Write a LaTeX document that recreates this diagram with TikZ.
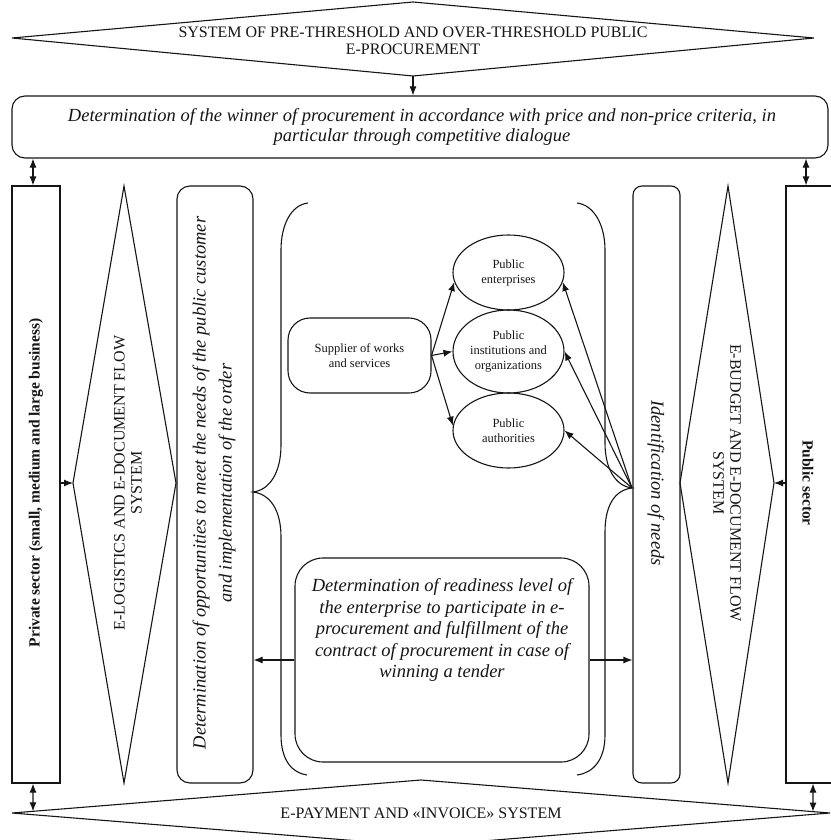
\documentclass[tikz,border=0pt]{standalone}
\usepackage{fontspec}
\setmainfont{Liberation Serif}
\usetikzlibrary{arrows.meta,shapes.geometric,calc}
\newcommand\myCaps{\fontsize{16}{17}\selectfont}
\newcommand\myItal{\fontsize{18.5}{20}\selectfont\itshape}
\newcommand\mySmall{\fontsize{12.5}{15}\selectfont}
\newcommand\myBold{\fontsize{15.5}{18}\selectfont\bfseries}
\definecolor{ink}{HTML}{151515}
\begin{document}
\begin{tikzpicture}[x=1pt,y=-1pt,
  line/.style={draw=ink, line width=1.1pt},
  arr/.style={line, -{Latex[length=9pt,width=7pt]}},
  darr/.style={line, {Latex[length=9pt,width=7pt]}-{Latex[length=9pt,width=7pt]}},
  rect/.style={line, rectangle, inner sep=0pt},
  rbox/.style={line, rectangle, inner sep=0pt},
  ell/.style={line, ellipse, inner sep=0pt, font=\mySmall, align=center, text=ink},
  txt/.style={inner sep=0pt, text=ink, align=center}]
\useasboundingbox (0,0) rectangle (830,840);

% top diamond
\coordinate (tdW) at (12,38);
\coordinate (tdE) at (814,38);
\coordinate (tdN) at (413,2);
\coordinate (tdS) at (413,76);
\draw[line] (tdW) -- (tdN) -- (tdE) -- (tdS) -- cycle;
\node[txt, font=\myCaps] (tdT) at (413,41) {SYSTEM OF PRE-THRESHOLD AND OVER-THRESHOLD PUBLIC\\E-PROCUREMENT};

% winner box
\node[rbox, rounded corners=13pt, minimum width=816pt, minimum height=62pt] (win) at (420,127) {};
\node[txt, font=\myItal] (winT) at (422,127) {Determination of the winner of procurement in accordance with price and non-price criteria, in\\particular through competitive dialogue};
\draw[arr] (tdS) -- (tdS |- win.north);

% side columns
\node[rect, minimum width=48pt, minimum height=597pt] (priv) at (36,484.5) {};
\node[txt, font=\myBold, rotate=90] (privT) at (36,483) {Private sector (small, medium and large business)};

\coordinate (ldN) at (124,186);
\coordinate (ldS) at (124,783);
\coordinate (ldW) at (73,483);
\coordinate (ldE) at (176,483);
\draw[line] (ldN) -- (ldE) -- (ldS) -- (ldW) -- cycle;
\node[txt, font=\myCaps, rotate=90] (ldT) at (128,483) {E-LOGISTICS AND E-DOCUMENT FLOW\\SYSTEM};

\node[rbox, rounded corners=13pt, minimum width=76pt, minimum height=597pt] (opp) at (215,484.5) {};
\node[txt, font=\fontsize{18.5}{26}\selectfont\itshape, rotate=90] (oppT) at (214,483) {Determination of opportunities to meet the needs of the public customer\\and implementation of the order};

\node[rbox, rounded corners=9pt, minimum width=47pt, minimum height=597pt] (ident) at (656.5,484.5) {};
\node[txt, font=\myItal, rotate=-90] (identT) at (656,483) {Identification of needs};

\coordinate (rdN) at (728,186);
\coordinate (rdS) at (728,783);
\coordinate (rdW) at (680,483);
\coordinate (rdE) at (774,483);
\draw[line] (rdN) -- (rdE) -- (rdS) -- (rdW) -- cycle;
\node[txt, font=\myCaps, rotate=-90] (rdT) at (727,483) {E-BUDGET AND E-DOCUMENT FLOW\\SYSTEM};

\node[rect, minimum width=54pt, minimum height=597pt] (pub) at (813,484.5) {};
\node[txt, font=\myBold, rotate=-90] (pubT) at (808,483) {Public sector};

\draw[arr] (priv.east |- ldW) -- (ldW);
\draw[arr] (pub.west |- rdE) -- (rdE);

% braces
\draw[line] (308,203) .. controls (291,205) and (281,225) .. (281,250) -- (281,445)
  .. controls (281,472) and (270,490) .. (253,492)
  .. controls (270,494) and (281,510) .. (281,537) -- (281,735)
  .. controls (281,760) and (292,773) .. (307,775);
\draw[line] (577,203) .. controls (594,205) and (605,225) .. (605,250) -- (605,443)
  .. controls (605,468) and (615,486) .. (632,488)
  .. controls (615,490) and (605,505) .. (605,532) -- (605,735)
  .. controls (605,760) and (593,773) .. (577,775);

% supplier and ellipses
\node[rbox, rounded corners=22pt, minimum width=143pt, minimum height=75pt, font=\mySmall, align=center, text=ink] (sup) at (359.5,355.5) {Supplier of works\\and services};
\node[ell, minimum width=111pt, minimum height=75pt] (pe) at (508.5,272.5) {Public\\enterprises};
\node[ell, minimum width=111pt, minimum height=83pt] (pi) at (508.5,351.5) {Public\\institutions and\\organizations};
\node[ell, minimum width=111pt, minimum height=75pt] (pa) at (508.5,430.5) {Public\\authorities};

\draw[arr] (sup.east) -- (pe.190);
\draw[arr] (sup.east) -- (pi.west);
\draw[arr] (sup.east) -- (pa.175);

\coordinate (rtip) at (632,488);
\draw[arr] (rtip) -- (pe.-10);
\draw[arr] (rtip) -- (pi.east);
\draw[arr] (rtip) -- (pa.east);

% readiness box
\node[rbox, rounded corners=28pt, minimum width=294pt, minimum height=204pt] (ready) at (442,660) {};
\node[txt, font=\fontsize{18.5}{21.5}\selectfont\itshape] (readyT) at (442,630) {Determination of readiness level of\\the enterprise to participate in e-\\procurement and fulfillment of the\\contract of procurement in case of\\winning a tender};
\draw[arr] (ready.west) -- (ready.west -| opp.east);
\draw[arr] (ready.east) -- (ready.east -| ident.west);

% bottom diamond
\coordinate (bdW) at (12,813);
\coordinate (bdE) at (830,813);
\coordinate (bdN) at (421,780);
\coordinate (bdS) at (421,846);
\draw[line] (bdW) -- (bdN) -- (bdE) -- (bdS) -- cycle;
\node[txt, font=\myCaps] (bdT) at (421,813) {E-PAYMENT AND «INVOICE» SYSTEM};

% double arrows
\coordinate (cl) at (33,0);
\coordinate (crt) at (806,0);
\coordinate (crb) at (813,0);
\draw[darr] (cl |- win.south) -- (cl |- priv.north);
\draw[darr] (crt |- win.south) -- (crt |- pub.north);
\coordinate (bdL) at ($(bdW)!{21/409}!(bdN)$);
\coordinate (bdR) at ($(bdE)!{17/409}!(bdN)$);
\draw[darr] (cl |- priv.south) -- (bdL);
\draw[darr] (crb |- pub.south) -- (bdR);
\end{tikzpicture}
\end{document}
